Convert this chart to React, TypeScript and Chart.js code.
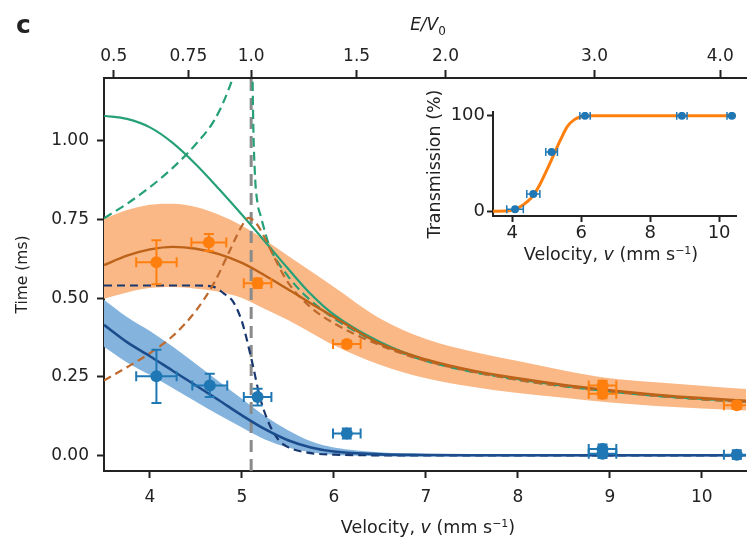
import React, { useEffect, useRef } from 'react';
import { Chart, registerables } from 'chart.js';

Chart.register(...registerables);

// ---------- constants ----------
const V0 = 5.1; // velocity (mm/s) where E/V0 = 1
const X_MIN = 3.5;
const X_MAX = 10.48;
const Y_MIN = -0.05;
const Y_MAX = 1.2;

// ---------- tick labels ----------
const velocityTicks = [4, 5, 6, 7, 8, 9, 10];
const timeTicks = [0, 0.25, 0.5, 0.75, 1.0];
const energyTicks = [0.5, 0.75, 1.0, 1.5, 2.0, 3.0, 4.0];
const energyTickLabels = ['0.5', '0.75', '1.0', '1.5', '2.0', '3.0', '4.0'];

// ---------- model curves (main) ----------
const modelV = [3.5, 3.75, 4.0, 4.25, 4.5, 4.75, 5.0, 5.25, 5.5, 5.75, 6.0, 6.5, 7.0, 7.5, 8.0, 8.5, 9.0, 9.5, 10.0, 10.5];
const orangeModel = [0.605, 0.635, 0.655, 0.663, 0.657, 0.64, 0.612, 0.572, 0.528, 0.483, 0.44, 0.355, 0.305, 0.27, 0.245, 0.224, 0.207, 0.193, 0.182, 0.173];
const orangeUpper = [0.752, 0.78, 0.797, 0.8, 0.79, 0.765, 0.73, 0.685, 0.635, 0.585, 0.535, 0.435, 0.37, 0.33, 0.3, 0.27, 0.245, 0.232, 0.221, 0.21];
const orangeLower = [0.498, 0.518, 0.532, 0.535, 0.53, 0.52, 0.5, 0.465, 0.43, 0.39, 0.35, 0.288, 0.245, 0.218, 0.198, 0.183, 0.168, 0.157, 0.149, 0.142];
const blueModel = [0.415, 0.36, 0.315, 0.268, 0.222, 0.175, 0.127, 0.083, 0.048, 0.025, 0.012, 0.003, 0.001, 0, 0, 0, 0, 0, 0, 0];
const blueUpper = [0.495, 0.44, 0.395, 0.345, 0.29, 0.235, 0.18, 0.125, 0.08, 0.045, 0.025, 0.01, 0.005, 0.004, 0.004, 0.004, 0.004, 0.004, 0.004, 0.004];
const blueLower = [0.345, 0.295, 0.255, 0.213, 0.17, 0.128, 0.088, 0.05, 0.025, 0.01, 0.002, -0.003, -0.004, -0.004, -0.004, -0.004, -0.004, -0.004, -0.004, -0.004];

const orangeDashV = [3.5, 3.75, 4.0, 4.25, 4.5, 4.7, 4.85, 5.0, 5.07, 5.15, 5.25, 5.35, 5.5, 5.75, 6.0, 6.5, 7.0, 8.0, 9.0, 10.0, 10.5];
const orangeDash = [0.238, 0.28, 0.325, 0.38, 0.46, 0.55, 0.64, 0.73, 0.755, 0.74, 0.69, 0.63, 0.55, 0.47, 0.42, 0.35, 0.3, 0.24, 0.203, 0.178, 0.17];

const blueDashV = [3.5, 4.0, 4.5, 4.7, 4.8, 4.9, 5.0, 5.1, 5.2, 5.3, 5.4, 5.5, 5.7, 6.0, 6.5, 7.0, 8.0, 10.5];
const blueDash = [0.54, 0.54, 0.54, 0.535, 0.515, 0.49, 0.425, 0.31, 0.18, 0.097, 0.048, 0.026, 0.009, 0.002, 0, 0, 0, 0];

const greenSolidV = [3.5, 3.75, 4.0, 4.25, 4.5, 4.75, 5.0, 5.25, 5.5, 5.75, 6.0, 6.5, 7.0, 8.0, 9.0, 10.0, 10.5];
const greenSolid = [1.08, 1.07, 1.043, 0.993, 0.925, 0.847, 0.765, 0.68, 0.594, 0.512, 0.447, 0.36, 0.303, 0.242, 0.204, 0.179, 0.171];

const greenDashLeftV = [3.5, 3.75, 4.0, 4.25, 4.5, 4.7, 4.85, 4.95, 5.02];
const greenDashLeft = [0.754, 0.8, 0.853, 0.915, 0.99, 1.066, 1.16, 1.25, 1.35];
const greenDashRightV = [5.105, 5.12, 5.14, 5.17, 5.2, 5.3, 5.5, 5.7, 5.93, 6.2, 6.5, 7.0, 8.0, 9.0, 10.0, 10.5];
const greenDashRight = [1.5, 1.1, 0.9, 0.8, 0.765, 0.665, 0.57, 0.505, 0.45, 0.4, 0.355, 0.3, 0.24, 0.203, 0.178, 0.17];

// ---------- measured points (main) ----------
const orangePtV = [4.07, 4.64, 5.17, 6.14, 8.92, 8.92, 10.38];
const orangePtT = [0.614, 0.677, 0.547, 0.354, 0.222, 0.196, 0.159];
const orangePtVErr = [0.22, 0.19, 0.15, 0.15, 0.15, 0.15, 0.14];
const orangePtTErr = [0.07, 0.027, 0.015, 0.01, 0.015, 0.015, 0.012];

const bluePtV = [4.07, 4.65, 5.17, 6.14, 8.92, 8.92, 10.38];
const bluePtT = [0.251, 0.222, 0.185, 0.069, 0.02, 0.005, 0.002];
const bluePtVErr = [0.22, 0.19, 0.15, 0.15, 0.15, 0.15, 0.14];
const bluePtTErr = [0.085, 0.037, 0.027, 0.016, 0.014, 0.014, 0.014];

// ---------- inset ----------
const insetVTicks = [4, 6, 8, 10];
const insetTTicks = [0, 100];
const transV = [3.44, 3.8, 4.0, 4.2, 4.4, 4.6, 4.8, 5.0, 5.2, 5.4, 5.6, 5.8, 6.0, 6.3, 7, 8, 9, 10, 10.49];
const trans = [0, 0.2, 1, 4, 9, 16, 28, 43, 59, 75, 89, 96, 99, 100, 100, 100, 100, 100, 100];
const transPtV = [4.08, 4.61, 5.14, 6.11, 8.92, 10.37];
const transPt = [2, 18, 62, 100, 100, 100];
const transPtVErr = [0.24, 0.19, 0.17, 0.15, 0.15, 0.14];

// ---------- styling ----------
const INK = '#222';
const C_ORANGE_BAND = 'rgb(250,184,134)';
const C_BLUE_BAND = 'rgb(132,180,222)';
const C_ORANGE_LINE = 'rgb(188,98,25)';
const C_ORANGE_DASH = 'rgb(190,105,45)';
const C_BLUE_LINE = 'rgb(27,76,140)';
const C_BLUE_DASH = 'rgb(26,56,112)';
const C_GREEN = 'rgb(38,160,120)';
const C_ORANGE_PT = '#FF7F0E';
const C_BLUE_PT = '#1F77B4';
const TICK_FONT = { family: '"DejaVu Sans"', size: 17 };

const pts = (xs: number[], ys: number[]) => xs.map((x, i) => ({ x, y: ys[i] }));

const curve = (xs: number[], ys: number[], color: string, dash: number[], width: number, order: number) => ({
  data: pts(xs, ys),
  borderColor: color,
  borderWidth: width,
  borderDash: dash,
  pointRadius: 0,
  fill: false,
  cubicInterpolationMode: 'monotone',
  order,
});

const fitSize = (size: number, horizontal: boolean) => (scale: any) => {
  if (horizontal) scale.height = size;
  else scale.width = size;
  scale.paddingLeft = 0;
  scale.paddingRight = 0;
  scale.paddingTop = 0;
  scale.paddingBottom = 0;
};

const setTicks = (values: number[]) => (scale: any) => {
  scale.ticks = values.map((v) => ({ value: v }));
};

const errorBarPlugin = {
  id: 'errorBars',
  afterDatasetsDraw(chart: any) {
    const { ctx, chartArea } = chart;
    const xs = chart.scales.x;
    const ys = chart.scales.y;
    ctx.save();
    ctx.beginPath();
    ctx.rect(chartArea.left, chartArea.top, chartArea.right - chartArea.left, chartArea.bottom - chartArea.top);
    ctx.clip();
    chart.data.datasets.forEach((ds: any) => {
      const eb = ds.errorBars;
      if (!eb) return;
      ctx.strokeStyle = ds.pointBackgroundColor;
      ctx.lineWidth = eb.width;
      ctx.setLineDash([]);
      ds.data.forEach((p: any, j: number) => {
        const px = xs.getPixelForValue(p.x);
        const py = ys.getPixelForValue(p.y);
        const ex = eb.x ? eb.x[j] : 0;
        const ey = eb.y ? eb.y[j] : 0;
        ctx.beginPath();
        if (ex) {
          const x1 = xs.getPixelForValue(p.x - ex);
          const x2 = xs.getPixelForValue(p.x + ex);
          ctx.moveTo(x1, py); ctx.lineTo(x2, py);
          ctx.moveTo(x1, py - eb.cap); ctx.lineTo(x1, py + eb.cap);
          ctx.moveTo(x2, py - eb.cap); ctx.lineTo(x2, py + eb.cap);
        }
        if (ey) {
          const y1 = ys.getPixelForValue(p.y - ey);
          const y2 = ys.getPixelForValue(p.y + ey);
          ctx.moveTo(px, y1); ctx.lineTo(px, y2);
          ctx.moveTo(px - eb.cap, y1); ctx.lineTo(px + eb.cap, y1);
          ctx.moveTo(px - eb.cap, y2); ctx.lineTo(px + eb.cap, y2);
        }
        ctx.stroke();
      });
    });
    ctx.restore();
  },
};

const axisGrid = (len: number) => ({
  drawOnChartArea: false,
  drawTicks: true,
  tickLength: len,
  tickWidth: 2,
  tickColor: INK,
});
const axisBorder = { display: true, color: INK, width: 2 };

function mainConfig(): any {
  const datasets: any[] = [
    // orange band
    { data: pts(modelV, orangeUpper), borderWidth: 0, pointRadius: 0, backgroundColor: C_ORANGE_BAND, fill: '+1', order: 20, cubicInterpolationMode: 'monotone' },
    { data: pts(modelV, orangeLower), borderWidth: 0, pointRadius: 0, fill: false, order: 20, cubicInterpolationMode: 'monotone' },
    // blue band
    { data: pts(modelV, blueUpper), borderWidth: 0, pointRadius: 0, backgroundColor: C_BLUE_BAND, fill: '+1', order: 19, cubicInterpolationMode: 'monotone' },
    { data: pts(modelV, blueLower), borderWidth: 0, pointRadius: 0, fill: false, order: 19, cubicInterpolationMode: 'monotone' },
    // vertical E = V0 line
    { data: [{ x: V0, y: Y_MIN }, { x: V0, y: Y_MAX }], borderColor: '#8a8a8a', borderWidth: 3, borderDash: [12, 7], pointRadius: 0, fill: false, tension: 0, order: 15 },
    // model lines
    curve(greenSolidV, greenSolid, C_GREEN, [], 2.2, 8),
    curve(greenDashLeftV, greenDashLeft, C_GREEN, [9, 5], 2.2, 8),
    curve(greenDashRightV, greenDashRight, C_GREEN, [9, 5], 2.2, 8),
    curve(orangeDashV, orangeDash, C_ORANGE_DASH, [8, 5], 2.2, 7),
    curve(blueDashV, blueDash, C_BLUE_DASH, [8, 5], 2.2, 7),
    curve(modelV, orangeModel, C_ORANGE_LINE, [], 2.4, 6),
    curve(modelV, blueModel, C_BLUE_LINE, [], 2.6, 6),
    // measured points
    {
      data: pts(orangePtV, orangePtT), showLine: false, pointRadius: 6, pointBackgroundColor: C_ORANGE_PT,
      pointBorderWidth: 0, borderColor: C_ORANGE_PT, order: 1,
      errorBars: { x: orangePtVErr, y: orangePtTErr, width: 2, cap: 5 },
    },
    {
      data: pts(bluePtV, bluePtT), showLine: false, pointRadius: 6, pointBackgroundColor: C_BLUE_PT,
      pointBorderWidth: 0, borderColor: C_BLUE_PT, order: 1,
      errorBars: { x: bluePtVErr, y: bluePtTErr, width: 2, cap: 5 },
    },
  ];
  return {
    type: 'line',
    data: { datasets },
    plugins: [errorBarPlugin],
    options: {
      animation: false,
      responsive: false,
      maintainAspectRatio: false,
      events: [],
      layout: { padding: 0 },
      plugins: { legend: { display: false }, tooltip: { enabled: false } },
      scales: {
        x: {
          type: 'linear', position: 'bottom', min: X_MIN, max: X_MAX,
          afterBuildTicks: setTicks(velocityTicks),
          afterFit: fitSize(72, true),
          ticks: { font: TICK_FONT, color: INK, padding: 9, autoSkip: false, maxRotation: 0, callback: (v: any) => String(v) },
          grid: axisGrid(7), border: axisBorder,
        },
        x2: {
          type: 'linear', position: 'top', min: X_MIN, max: X_MAX,
          afterBuildTicks: (scale: any) => { scale.ticks = energyTicks.map((e) => ({ value: V0 * Math.sqrt(e) })); },
          afterFit: fitSize(78, true),
          ticks: { font: TICK_FONT, color: INK, padding: 3, autoSkip: false, maxRotation: 0, callback: (_v: any, i: number) => energyTickLabels[i] },
          grid: axisGrid(8), border: axisBorder,
        },
        y: {
          type: 'linear', position: 'left', min: Y_MIN, max: Y_MAX,
          afterBuildTicks: setTicks(timeTicks),
          afterFit: fitSize(104, false),
          ticks: { font: TICK_FONT, color: INK, padding: 8, autoSkip: false, callback: (v: any) => Number(v).toFixed(2) },
          grid: axisGrid(7), border: axisBorder,
          title: { display: true, text: 'Time (ms)', color: INK, font: { family: '"DejaVu Sans"', size: 15.5 }, padding: { top: 14, bottom: 0 } },
        },
      },
    },
  };
}

function insetConfig(): any {
  const datasets: any[] = [
    curve(transV, trans, C_ORANGE_PT, [], 3, 5),
    {
      data: pts(transPtV, transPt), showLine: false, pointRadius: 4, pointBackgroundColor: C_BLUE_PT,
      pointBorderWidth: 0, borderColor: C_BLUE_PT, order: 1,
      errorBars: { x: transPtVErr, width: 1.5, cap: 4 },
    },
  ];
  return {
    type: 'line',
    data: { datasets },
    plugins: [errorBarPlugin],
    options: {
      animation: false,
      responsive: false,
      maintainAspectRatio: false,
      events: [],
      layout: { padding: { left: 0, right: 16, top: 32, bottom: 0 } },
      plugins: { legend: { display: false }, tooltip: { enabled: false } },
      scales: {
        x: {
          type: 'linear', position: 'bottom', min: 3.44, max: 10.49,
          afterBuildTicks: setTicks(insetVTicks),
          afterFit: fitSize(64, true),
          ticks: { font: { family: '"DejaVu Sans"', size: 18 }, color: INK, padding: 1, autoSkip: false, maxRotation: 0, callback: (v: any) => String(v) },
          grid: axisGrid(6), border: axisBorder,
        },
        y: {
          type: 'linear', position: 'left', min: -5, max: 104,
          afterBuildTicks: setTicks(insetTTicks),
          afterFit: fitSize(93, false),
          ticks: { font: { family: '"DejaVu Sans"', size: 18 }, color: INK, padding: 2, autoSkip: false, callback: (v: any) => String(v) },
          grid: axisGrid(6), border: axisBorder,
          title: { display: true, text: 'Transmission (%)', color: INK, font: { family: '"DejaVu Sans"', size: 17.5 }, padding: { top: 24.5, bottom: 0 } },
        },
      },
    },
  };
}

const textBase: any = {
  position: 'absolute',
  whiteSpace: 'nowrap',
  color: INK,
  fontFamily: '"DejaVu Sans"',
};

function VelocityLabel({ cx, top }: { cx: number; top: number }) {
  return (
    <div style={{ ...textBase, left: cx, top, transform: 'translateX(-50%)', fontSize: 17.5, lineHeight: '20px' }}>
      Velocity, <i>v</i> (mm s
      <span style={{ fontSize: 11, lineHeight: 0, verticalAlign: '6px' }}>−1</span>)
    </div>
  );
}

export default function App() {
  const mainRef = useRef<HTMLCanvasElement>(null);
  const insetRef = useRef<HTMLCanvasElement>(null);

  useEffect(() => {
    const main = new Chart(mainRef.current as HTMLCanvasElement, mainConfig());
    const inset = new Chart(insetRef.current as HTMLCanvasElement, insetConfig());
    return () => {
      main.destroy();
      inset.destroy();
    };
  }, []);

  return (
    <div style={{ position: 'absolute', left: 0, top: 0, width: 752, height: 543, background: '#fff', overflow: 'hidden' }}>
      <canvas ref={mainRef} width={752} height={543} style={{ position: 'absolute', left: 0, top: 0, display: 'block' }} />
      <canvas ref={insetRef} width={352} height={200} style={{ position: 'absolute', left: 400, top: 80, display: 'block' }} />
      <div style={{ ...textBase, left: 16, top: 12, fontSize: 25, lineHeight: '25px', fontWeight: 'bold' }}>c</div>
      <div style={{ ...textBase, left: 428, top: 14, transform: 'translateX(-50%)', fontSize: 17, lineHeight: '20px' }}>
        <i>E/V</i>
        <span style={{ fontSize: 12, lineHeight: 0, verticalAlign: '-5px' }}>0</span>
      </div>
      <VelocityLabel cx={428} top={517} />
      <VelocityLabel cx={611} top={244} />
    </div>
  );
}
